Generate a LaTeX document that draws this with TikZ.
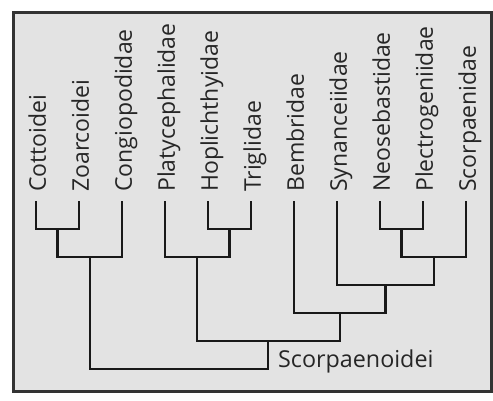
\documentclass[tikz,border=0pt]{standalone}
\usepackage{fontspec}
\setmainfont{Open Sans}
\begin{document}
\begin{tikzpicture}[x=1pt,y=-1pt,
  frame/.style={draw=black!80,line width=3pt,fill=black!11},
  branch/.style={draw=black!90,line width=2.8pt,line cap=rect},
  leaf/.style={rotate=90,anchor=west,inner sep=0pt,text height=16.5pt,text depth=0pt,
    font=\fontsize{23}{25}\selectfont,text=black!85},
  cladelabel/.style={anchor=base west,inner sep=0pt,font=\fontsize{23.3}{26}\selectfont,text=black!85}]
\useasboundingbox (0,0) rectangle (493,400);
\path[frame] (13,12.5) rectangle (491,391.5);

% taxa
\foreach \n/\x/\t in {1/36/Cottoidei,2/79/Zoarcoidei,3/122/Congiopodidae,
  4/165/Platycephalidae,5/208/Hoplichthyidae,6/251/Triglidae,7/294/Bembridae,
  8/337/Synanceiidae,9/380/Neosebastidae,10/423/Plectrogeniidae,11/466/Scorpaenidae}{
  \node[leaf] (l\n) at (\x+1.5,192) {\t};
  \coordinate (t\n) at (\x,202);
}

% internal nodes
\coordinate (a) at (57.5,229);   % Cottoidei + Zoarcoidei
\coordinate (b) at (90,257);     % + Congiopodidae
\coordinate (c) at (229.5,229);  % Hoplichthyidae + Triglidae
\coordinate (d) at (197,257);    % + Platycephalidae
\coordinate (e) at (401.5,229);  % Neosebastidae + Plectrogeniidae
\coordinate (f) at (434,257);    % + Scorpaenidae
\coordinate (g) at (385.5,285);  % + Synanceiidae
\coordinate (h) at (340,313);    % + Bembridae
\coordinate (i) at (268,341);    % + Platycephalid group
\coordinate (r) at (179,369);    % root

\draw[branch] (t1) |- (a) -| (t2);
\draw[branch] (a) |- (b) -| (t3);
\draw[branch] (t5) |- (c) -| (t6);
\draw[branch] (t4) |- (d) -| (c);
\draw[branch] (t9) |- (e) -| (t10);
\draw[branch] (e) |- (f) -| (t11);
\draw[branch] (t8) |- (g) -| (f);
\draw[branch] (t7) |- (h) -| (g);
\draw[branch] (d) |- (i) -| (h);
\draw[branch] (b) |- (r) -| (i);

\node[cladelabel] (root) at (278,367) {Scorpaenoidei};
\end{tikzpicture}
\end{document}
